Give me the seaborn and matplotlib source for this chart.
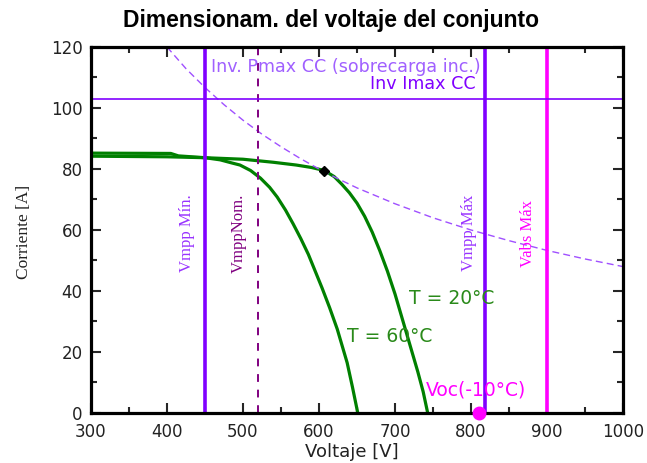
import numpy as np
import pandas as pd
import matplotlib.pyplot as plt
import seaborn as sns
from matplotlib.ticker import MultipleLocator

# curvas I-V
v_20 = [300, 400, 450, 500, 540, 570, 590, 607, 620, 630, 640, 650, 660, 670, 680,
        690, 700, 710, 720, 730, 737, 743]
i_20 = [84.2, 84.0, 83.7, 83.2, 82.2, 81.3, 80.5, 79.5, 77.5, 75.0, 72.2, 68.8, 64.5,
        59.3, 53.2, 46.5, 39.0, 30.5, 22.0, 13.5, 7.0, 0.0]
v_60 = [300, 405, 415, 450, 470, 485, 496, 510, 523, 535, 545, 556, 566, 576, 586,
        595, 604, 614, 624, 637, 644, 651]
i_60 = [85.2, 85.1, 84.3, 83.7, 83.0, 82.0, 81.3, 79.5, 77.0, 74.0, 70.8, 66.5, 62.0,
        57.2, 52.0, 46.5, 41.0, 34.5, 27.5, 16.5, 8.5, 0.0]

# limite de potencia del inversor (Pmax CC)
v_pmax = [400, 425, 450, 475, 500, 525, 550, 575, 600, 625, 650, 700, 750, 800, 850,
          900, 950, 1000]
i_pmax = [120, 112.9, 106.7, 101.1, 96.0, 91.4, 87.3, 83.5, 80.0, 76.8, 73.8, 68.6,
          64.0, 60.0, 56.5, 53.3, 50.5, 48.0]

vmpp_min = 450
vmpp_nom = 520
vmpp_max = 818
vabs_max = 900
imax_cc = 103
voc_m10 = 811
mpp = (607, 79.5)

sns.set_style('ticks')
plt.rcParams['font.family'] = ['DejaVu Sans']

fig = plt.figure(figsize=(6.47, 4.63), dpi=100)
ax = fig.add_axes([0.1406, 0.108, 0.8224, 0.7905])

df = pd.concat([
    pd.DataFrame({'V': v_20, 'I': i_20, 'T': '20'}),
    pd.DataFrame({'V': v_60, 'I': i_60, 'T': '60'}),
])
sns.lineplot(data=df, x='V', y='I', units='T', estimator=None, sort=False,
             color='#008000', lw=2.3, ax=ax, legend=False)
sns.lineplot(x=v_pmax, y=i_pmax, color='#a050ff', lw=1.0, ax=ax,
             dashes=False, linestyle=(0, (5, 3)))

ax.axvline(vmpp_min, color='#8000ff', lw=2.6)
ax.axvline(vmpp_nom, color='#800080', lw=1.4, linestyle=(0, (4, 4)))
ax.axvline(vmpp_max, color='#8000ff', lw=2.6)
ax.axvline(vabs_max, color='#ff00ff', lw=2.6)
ax.axhline(imax_cc, color='#8000ff', lw=1.2)

ax.plot(*mpp, 'D', color='black', ms=5.5, zorder=5)
ax.plot(voc_m10, 0, 'o', color='#ff00ff', ms=9, zorder=5, clip_on=False)

ax.set_xlim(300, 1000)
ax.set_ylim(0, 120)
ax.xaxis.set_major_locator(MultipleLocator(100))
ax.xaxis.set_minor_locator(MultipleLocator(50))
ax.yaxis.set_major_locator(MultipleLocator(20))
ax.yaxis.set_minor_locator(MultipleLocator(10))
ax.tick_params(which='both', direction='in', top=True, right=True, width=1.5,
               labelsize=12, labelcolor='#222222')
ax.tick_params(which='major', length=7)
ax.tick_params(which='minor', length=4)
ax.tick_params(axis='x', pad=7)
ax.tick_params(axis='y', pad=6)
for s in ax.spines.values():
    s.set_linewidth(2.3)
    s.set_color('black')

ax.set_xlabel('Voltaje [V]', fontsize=13, color='#222222')
ax.xaxis.set_label_coords(0.49, -0.083)
ax.set_ylabel('Corriente [A]', fontsize=12.5, family='Liberation Serif', color='#222222')
ax.yaxis.set_label_coords(-0.11, 0.495)
fig.text(0.512, 0.955, 'Dimensionam. del voltaje del conjunto', ha='center', va='center',
         fontsize=16.5, fontweight='bold', family='Liberation Sans', color='black')

# etiquetas
ax.text(635, 113.6, 'Inv. Pmax CC (sobrecarga inc.)', color='#a060ff', fontsize=12.6,
        ha='center', va='center')
ax.text(806, 108, 'Inv Imax CC', color='#8000ff', fontsize=12.6, ha='right', va='center')
serif = dict(family='Liberation Serif', fontsize=12, rotation=90, ha='center', va='center')
ax.text(426, 59, 'Vmpp Mín.', color='#9933ff', **serif)
ax.text(495, 59, 'VmppNom.', color='#800080', **serif)
ax.text(797, 59, 'Vmpp Máx', color='#9933ff', **serif)
ax.text(875, 59, 'Vabs Máx', color='#ff00ff', **serif)
ax.text(718, 37.5, 'T = 20°C', color='#2a8a1a', fontsize=13.5, va='center')
ax.text(637, 25, 'T = 60°C', color='#2a8a1a', fontsize=13.5, va='center')
ax.text(740, 7.5, 'Voc(-10°C)', color='#ff00ff', fontsize=13.5, va='center')

fig.savefig('out.png', dpi=100)
plt.close(fig)
